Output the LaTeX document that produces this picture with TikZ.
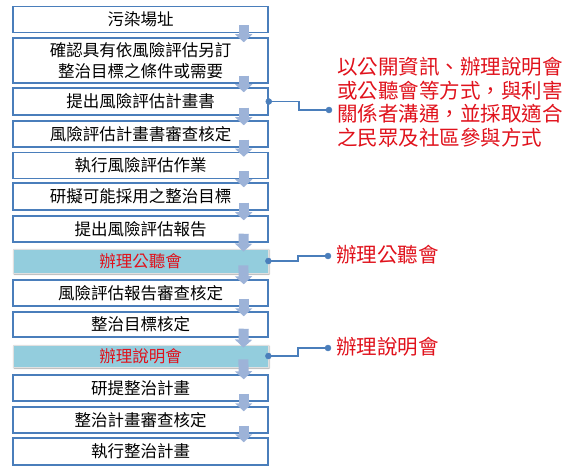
\documentclass[tikz,border=0pt]{standalone}
\usepackage{fontspec}
\setmainfont{Noto Sans CJK TC}
\usepackage{xcolor}
\usetikzlibrary{arrows.meta,calc,shadows.blur}
\definecolor{boxline}{HTML}{4A7EBB}
\definecolor{hifill}{HTML}{93CDDD}
\definecolor{arrowfill}{HTML}{9DB3D8}
\definecolor{notered}{HTML}{E0121C}
\tikzset{
	box/.style={
			draw=boxline, line width=1.5pt, fill=white,
			minimum width=255pt, minimum height=26pt, inner sep=0pt,
			align=center, font=\fontsize{16.5}{20.5}\selectfont
		},
	hibox/.style={
			box, draw=black!12, line width=0.8pt, fill=hifill, text=notered,
			minimum height=24pt,
			blur shadow={shadow xshift=1pt, shadow yshift=-1pt,
					shadow blur radius=1.5pt, shadow opacity=35}
		},
	flowarrow/.style={
			draw=arrowfill, line width=10pt,
			-{Triangle[width=17pt,length=8pt]}
		},
	link/.style={draw=boxline, line width=1.7pt},
	note/.style={inner sep=0pt, text=notered, align=left,
			font=\fontsize{20.5}{23.5}\selectfont}
}

\begin{document}
\begin{tikzpicture}[x=1pt,y=-1pt]
        \useasboundingbox (0,0) rectangle (564,470);
        \node[box] (box_1) at (140.5, 19.5) {污染場址};
        \node[box, minimum height=45pt] (box_2) at (140.5, 60.5) {確認具有依風險評估另訂\\整治目標之條件或需要};
        \node[box, minimum height=27pt] (box_3) at (140.5, 101.5) {提出風險評估計畫書};
        \node[box] (box_4) at (140.5, 134) {風險評估計畫書審查核定};
        \node[box] (box_5) at (140.5, 165.5) {執行風險評估作業};
        \node[box, minimum height=27pt] (box_6) at (140.5, 196.5) {研擬可能採用之整治目標};
        \node[box] (box_7) at (140.5, 229) {提出風險評估報告};
        \node[hibox] (box_8) at (140.5, 261) {辦理公聽會};
        \node[box] (box_9) at (140.5, 293) {風險評估報告審查核定};
        \node[box, minimum height=25pt] (box_10) at (140.5, 324.5) {整治目標核定};
        \node[hibox, minimum height=22pt] (box_11) at (140.5, 356) {辦理說明會};
        \node[box] (box_12) at (140.5, 388) {研提整治計畫};
        \node[box] (box_13) at (140.5, 420) {整治計畫審查核定};
        \node[box, minimum height=27pt] (box_14) at (140.5, 451.5) {執行整治計畫};
        \draw[flowarrow] ([xshift=-25pt,yshift=8pt]box_1.south east) -- ([xshift=-25pt,yshift=-5pt]box_2.north east);
        \draw[flowarrow] ([xshift=-25pt,yshift=8pt]box_2.south east) -- ([xshift=-25pt,yshift=-5pt]box_3.north east);
        \draw[flowarrow] ([xshift=-25pt,yshift=8pt]box_3.south east) -- ([xshift=-25pt,yshift=-5pt]box_4.north east);
        \draw[flowarrow] ([xshift=-25pt,yshift=8pt]box_4.south east) -- ([xshift=-25pt,yshift=-5pt]box_5.north east);
        \draw[flowarrow] ([xshift=-25pt,yshift=8pt]box_5.south east) -- ([xshift=-25pt,yshift=-5pt]box_6.north east);
        \draw[flowarrow] ([xshift=-25pt,yshift=8pt]box_6.south east) -- ([xshift=-25pt,yshift=-5pt]box_7.north east);
        \draw[flowarrow] ([xshift=-25pt,yshift=9pt]box_7.south east) -- ([xshift=-25pt,yshift=-3pt]box_8.north east);
        \draw[flowarrow] ([xshift=-25pt,yshift=8pt]box_8.south east) -- ([xshift=-25pt,yshift=-5pt]box_9.north east);
        \draw[flowarrow] ([xshift=-25pt,yshift=8pt]box_9.south east) -- ([xshift=-25pt,yshift=-5pt]box_10.north east);
        \draw[flowarrow] ([xshift=-25pt,yshift=9pt]box_10.south east) -- ([xshift=-25pt,yshift=-3pt]box_11.north east);
        \draw[flowarrow] ([xshift=-25pt,yshift=8pt]box_11.south east) -- ([xshift=-25pt,yshift=-5pt]box_12.north east);
        \draw[flowarrow] ([xshift=-25pt,yshift=8pt]box_12.south east) -- ([xshift=-25pt,yshift=-5pt]box_13.north east);
        \draw[flowarrow] ([xshift=-25pt,yshift=8pt]box_13.south east) -- ([xshift=-25pt,yshift=-5pt]box_14.north east);
        \coordinate (dot_1) at (329, 110);
        \coordinate (dot_2) at (328, 256);
        \coordinate (dot_3) at (328, 348);
        \node[note, anchor=north west] (note_1) at (337, 57) {以公開資訊、辦理說明會\\或公聽會等方式，與利害\\關係者溝通，並採取適合\\之民眾及社區參與方式};
        \node[note, anchor=west] (note_2) at (336, 255) {辦理公聽會};
        \node[note, anchor=west] (note_3) at (336, 347) {辦理說明會};
        \draw[link] (box_3.east) -| ($(box_3.east)!0.5!(dot_1)$) |- (dot_1);
        \draw[link] (box_8.east) -| ($(box_8.east)!0.5!(dot_2)$) |- (dot_2);
        \draw[link] (box_11.east) -| ($(box_11.east)!0.5!(dot_3)$) |- (dot_3);
        \filldraw[boxline] (box_3.east) circle (3pt) (dot_1) circle (3pt);
        \filldraw[boxline] (box_8.east) circle (3pt) (dot_2) circle (3pt);
        \filldraw[boxline] (box_11.east) circle (3pt) (dot_3) circle (3pt);
    \end{tikzpicture}
\end{document}
